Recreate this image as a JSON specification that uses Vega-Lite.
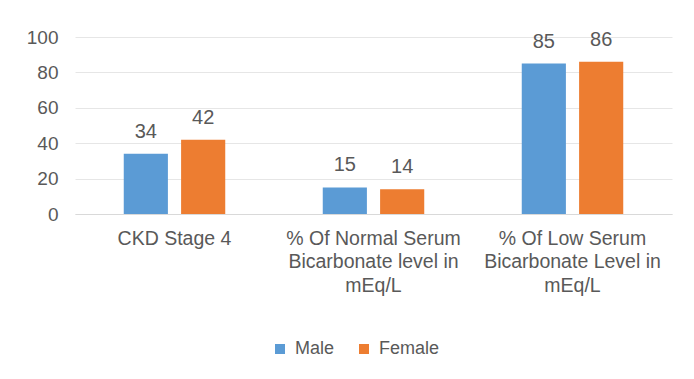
{
  "$schema": "https://vega.github.io/schema/vega-lite/v6.json",
  "width": 597,
  "height": 177,
  "autosize": {"type": "none"},
  "padding": {"left": 75, "top": 37, "right": 22, "bottom": 165},
  "background": "white",
  "data": {
    "values": [
      {"category": "CKD Stage 4", "sex": "Male", "value": 34},
      {"category": "CKD Stage 4", "sex": "Female", "value": 42},
      {"category": "% Of Normal Serum\nBicarbonate level in\nmEq/L", "sex": "Male", "value": 15},
      {"category": "% Of Normal Serum\nBicarbonate level in\nmEq/L", "sex": "Female", "value": 14},
      {"category": "% Of  Low Serum\nBicarbonate Level in\nmEq/L", "sex": "Male", "value": 85},
      {"category": "% Of  Low Serum\nBicarbonate Level in\nmEq/L", "sex": "Female", "value": 86}
    ]
  },
  "encoding": {
    "x": {
      "field": "category",
      "type": "nominal",
      "sort": null,
      "scale": {"paddingInner": 0.49, "paddingOuter": 0.245},
      "axis": {
        "title": null,
        "labelAngle": 0,
        "labelExpr": "split(datum.label, '\\n')",
        "labelFont": "Liberation Sans",
        "labelFontSize": 19.5,
        "labelLineHeight": 23.5,
        "labelColor": "#595959",
        "labelPadding": 15,
        "labelLimit": 300,
        "ticks": false,
        "domain": true,
        "domainColor": "#d9d9d9",
        "grid": false
      }
    },
    "xOffset": {"field": "sex", "type": "nominal", "sort": ["Male", "Female"], "scale": {"paddingInner": 0.23}},
    "y": {
      "field": "value",
      "type": "quantitative",
      "scale": {"domain": [0, 100], "nice": false},
      "axis": {
        "title": null,
        "values": [0, 20, 40, 60, 80, 100],
        "labelFont": "Liberation Sans",
        "labelFontSize": 19,
        "labelColor": "#595959",
        "labelPadding": 17,
        "ticks": false,
        "domain": false,
        "grid": true,
        "gridColor": "#e6e6e6",
        "gridWidth": 1
      }
    }
  },
  "layer": [
    {
      "mark": {"type": "bar"},
      "encoding": {
        "color": {
          "field": "sex",
          "type": "nominal",
          "sort": ["Male", "Female"],
          "scale": {"domain": ["Male", "Female"], "range": ["#5B9BD5", "#ED7D31"]},
          "legend": {
            "title": null,
            "orient": "none",
            "legendX": 196,
            "legendY": 303,
            "direction": "horizontal",
            "symbolType": "square",
            "symbolSize": 100,
            "symbolStrokeWidth": 0,
            "labelFont": "Liberation Sans",
            "labelFontSize": 18,
            "labelColor": "#595959",
            "columnPadding": 20,
            "labelOffset": 6
          }
        }
      }
    },
    {
      "mark": {"type": "text", "baseline": "bottom", "dy": -12, "font": "Liberation Sans", "fontSize": 20, "color": "#595959"},
      "encoding": {
        "text": {"field": "value", "type": "quantitative"}
      }
    }
  ],
  "config": {"view": {"stroke": null}}
}
